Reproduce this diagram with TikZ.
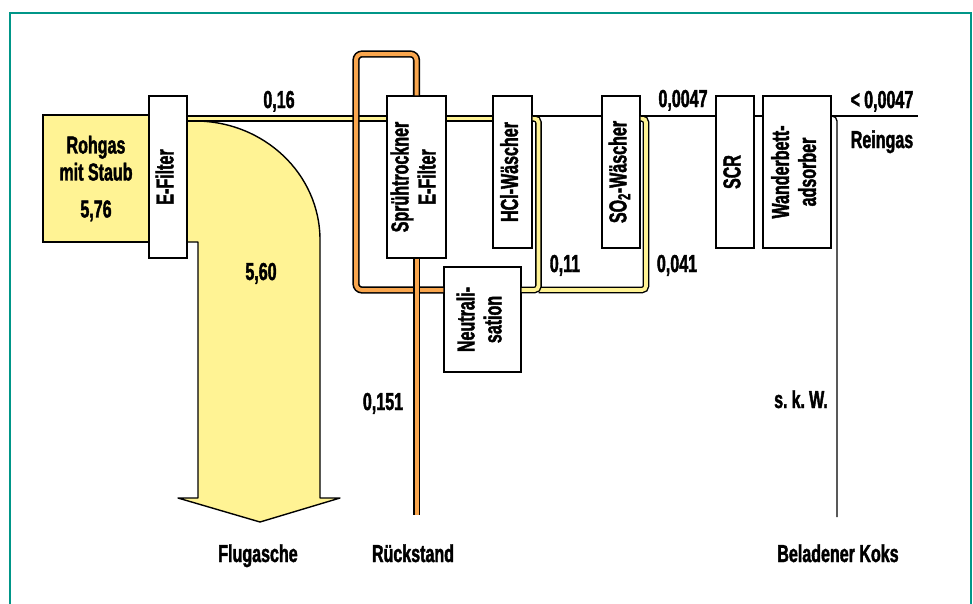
\documentclass[tikz,border=0pt]{standalone}
\usepackage{fontspec}
\setmainfont{Liberation Sans}[FakeStretch=0.655,BoldFeatures={FakeBold=1.6}]
\usepackage{graphicx}
\definecolor{rahmen}{RGB}{0,150,136}
\definecolor{gelb}{RGB}{255,243,148}
\definecolor{orang}{RGB}{249,166,78}
\newcommand\vtext[1]{\rotatebox{90}{\begin{tabular}{@{}c@{}}#1\end{tabular}}}
\tikzset{
  kasten/.style={draw,fill=white,line width=1.3pt,inner sep=0pt},
  gelbrohr/.style={draw=black,line width=1.4pt,double=gelb,double distance=3.8pt,rounded corners=4pt},
  orangerohr/.style={draw=black,line width=1.6pt,double=orang,double distance=4pt,rounded corners=6pt},
  gas/.style={line width=1.3pt,rounded corners=5pt},
  wert/.style={anchor=base,inner sep=0pt}
}
\begin{document}
\begin{tikzpicture}[x=1pt,y=-1pt,font=\fontsize{24.5}{27}\selectfont\bfseries]
\useasboundingbox (0,0) rectangle (973,603);
\draw[rahmen,line width=2.5pt] (10,620) -- (10,13) -- (971,13) -- (971,620);

% hoehen der leitungen
\coordinate (gas) at (0,116);
\coordinate (lvl) at (0,118.5);
\coordinate (lvlb) at (0,290);
\coordinate (j1) at (538.5,290);
\coordinate (j2) at (646,290);
\coordinate (oc) at (356,54);
\coordinate (rend) at (0,515);
\coordinate (gasend) at (918,116);
\coordinate (koksend) at (837,517);

% rohgas und flugasche
\node[kasten,fill=gelb,minimum width=106pt,minimum height=127pt,align=center] (rohgas) at (96,178.5) {Rohgas\\mit Staub\\[10pt]5,76};
\draw[fill=gelb,line width=1.4pt,line join=round] (187,121) -- (195,121) .. controls (264,121) and (320,174) .. (320,240)
  -- (320,498) -- (340,498) -- (260,522) -- (178,498) -- (198,498) -- (198,242) -- (187,242);

% anlagen
\node[kasten,minimum width=38pt,minimum height=162pt] (efilter) at (168,177) {\vtext{E-Filter}};
\node[kasten,minimum width=59pt,minimum height=162pt] (spray) at (416.5,177) {\vtext{Sprühtrockner\\E-Filter}};
\node[kasten,minimum width=39pt,minimum height=152pt] (hcl) at (512.5,172) {\vtext{HCl-Wäscher}};
\node[kasten,minimum width=38pt,minimum height=152pt] (so2) at (621,172) {\vtext{SO\textsubscript{2}-Wäscher}};
\node[kasten,minimum width=38pt,minimum height=152pt] (scr) at (735,172) {\vtext{SCR}};
\node[kasten,minimum width=68pt,minimum height=152pt] (wander) at (797,172) {\vtext{Wanderbett-\\adsorber}};
\node[kasten,minimum width=77pt,minimum height=105pt] (neutral) at (482.5,319.5) {\vtext{Neutrali-\\sation}};

% gelbe stroeme
\draw[gelbrohr] (efilter.east |- lvl) -- (spray.west |- lvl);
\draw[gelbrohr] (spray.east |- lvl) -- (hcl.west |- lvl);
\draw[gelbrohr] (so2.east |- lvl) -| (j2) -- (j1);
\draw[gelbrohr] (hcl.east |- lvl) -| (j1) -- (neutral.east |- lvlb);

% rueckstand
\draw[orangerohr] (neutral.west |- lvlb) -| (oc) -| (spray.north);
\draw[orangerohr] (spray.south) -- (spray.south |- rend);

% reingas und koks
\draw[gas] (hcl.east |- gas) -- (so2.west |- gas);
\draw[gas] (so2.east |- gas) -- (scr.west |- gas);
\draw[gas] (scr.east |- gas) -- (wander.west |- gas);
\draw[gas] (wander.east |- gas) -- (gasend);
\draw[gas] (wander.east |- gas) -| (koksend);

% werte
\node[wert] (w016) at (279,108) {0,16};
\node[wert] (w560) at (261,280) {5,60};
\node[wert] (w0047) at (683,107) {0,0047};
\node[wert] (wrein) at (882,108) {<\,0,0047};
\node[wert] (reingas) at (882,148) {Reingas};
\node[wert] (w011) at (565,272) {0,11};
\node[wert] (w0041) at (677,272) {0,041};
\node[wert] (w0151) at (383,410) {0,151};
\node[wert] (skw) at (801,408) {s.\,k.\,W.};
\node[wert] (flug) at (258,562) {Flugasche};
\node[wert] (rueck) at (413,562) {Rückstand};
\node[wert] (koks) at (838,562) {Beladener Koks};
\end{tikzpicture}
\end{document}
